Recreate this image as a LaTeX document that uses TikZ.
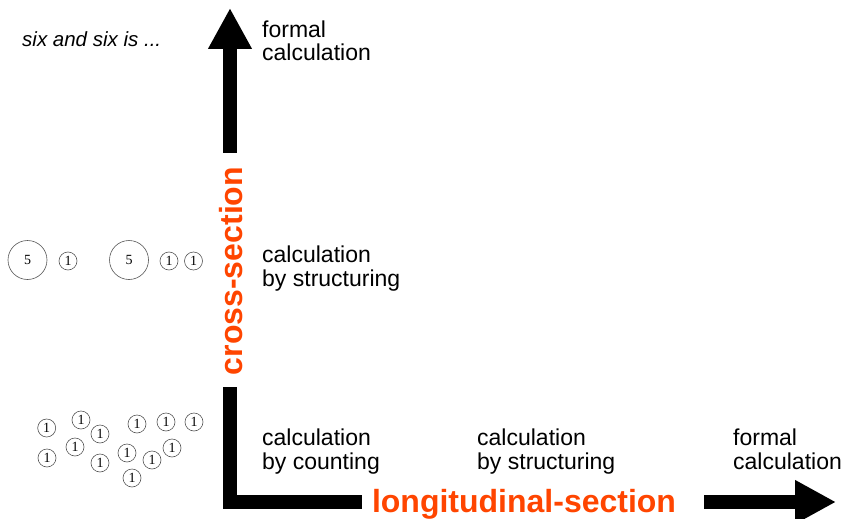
\documentclass[tikz,border=0pt]{standalone}
\usepackage{fontspec}
\setmainfont{Liberation Sans}
\newfontfamily\digitfont{Liberation Serif}
\usetikzlibrary{arrows.meta,calc}
\definecolor{sectioncol}{HTML}{FF4500}
\definecolor{ringcol}{HTML}{555555}

\begin{document}
\begin{tikzpicture}[x=1pt,y=-1pt,
    bar/.style={line width=14pt,line join=miter},
    head/.style={-{Triangle[length=41pt,width=41pt]}},
    sectionlabel/.style={text=sectioncol,inner sep=0pt,font=\fontsize{32}{34}\selectfont\bfseries},
    stage/.style={anchor=base west,align=left,inner sep=0pt,font=\fontsize{23}{23.5}\selectfont},
    big/.style={circle,draw=ringcol,line width=0.6pt,minimum size=39pt,inner sep=0pt,font=\digitfont\fontsize{14}{14}\selectfont},
    unit/.style={circle,draw=ringcol,line width=0.6pt,minimum size=18pt,inner sep=0pt,font=\digitfont\fontsize{14}{14}\selectfont}]
  \useasboundingbox (0,0) rectangle (843,519);
  \coordinate (toptip) at (230,8);
  \coordinate (corner) at (230,502);
  \coordinate (righttip) at (836,502);
  \node[sectionlabel,rotate=90,anchor=base] (cross) at (242,271) {cross-section};
  \node[sectionlabel,anchor=base] (long) at (524,512) {longitudinal-section};
  \draw[bar,head] ($(toptip |- cross.east)+(0,-14)$) -- (toptip);
  \draw[bar] ($(corner |- cross.west)+(0,12)$) -- (corner) -- ($(corner -| long.west)+(-10,0)$);
  \draw[bar,head] ($(corner -| long.east)+(28,0)$) -- (righttip);
  \node[stage] (formalup) at (262,61) {formal\\calculation};
  \node[stage] (structup) at (262,286) {calculation\\by structuring};
  \node[stage] (counting) at (262,469) {calculation\\by counting};
  \node[stage] (structlong) at (477,469) {calculation\\by structuring};
  \node[stage] (formallong) at (733,469) {formal\\calculation};
  \node[anchor=base west,inner sep=0pt,font=\fontsize{20.5}{20.5}\selectfont\itshape] (prompt) at (22,47) {six and six is ...};
  \node[big] (fiveA) at (27.5,260) {5};
  \node[unit] (oneA) at (68,261) {1};
  \node[big] (fiveB) at (129,260) {5};
  \node[unit] (oneB) at (169,261) {1};
  \node[unit] (oneC) at (193.5,261) {1};
  \foreach \cx/\cy [count=\i] in {46.7/428,81/420,100/434,75/447,47/458,100/463,137/424,166/422,194/422,127/453,172/448,152/460,132/478} {
    \node[unit] (one\i) at (\cx,\cy) {1};
  }
\end{tikzpicture}
\end{document}
